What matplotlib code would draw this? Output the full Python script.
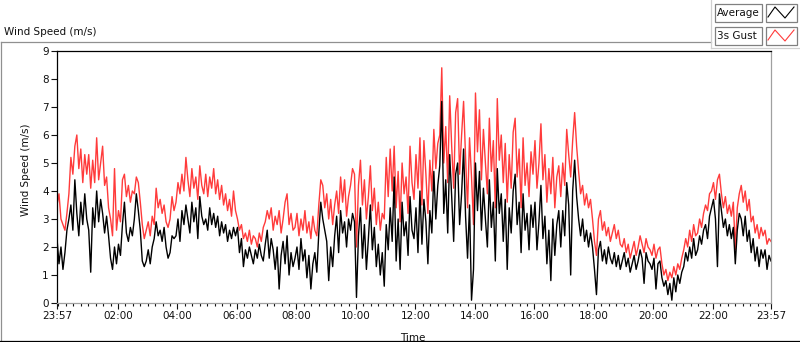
import matplotlib
matplotlib.use("Agg")
import matplotlib.pyplot as plt
from matplotlib.lines import Line2D
from matplotlib.patches import Rectangle
import numpy as np

# === Data: 4-minute samples, one row per hour starting 23:57 ===
avg_speed = [
    2.3, 1.4, 2.0, 1.2, 1.8, 2.6, 3.0, 3.5, 2.6, 4.4, 3.2, 2.4, 3.6, 2.8, 3.9,
    3.0, 2.6, 1.1, 3.4, 2.7, 4.0, 2.9, 3.7, 3.2, 2.5, 3.1, 2.4, 1.6, 1.2, 2.0,
    1.4, 2.1, 1.7, 2.8, 3.6, 2.5, 2.2, 2.7, 2.4, 3.0, 3.9, 3.3, 2.6, 1.5, 1.3,
    1.5, 1.9, 1.4, 2.0, 2.3, 2.9, 2.4, 2.6, 2.2, 2.7, 2.0, 1.6, 1.8, 2.4, 2.3,
    2.4, 3.0, 2.2, 3.3, 2.8, 3.5, 3.0, 2.5, 3.6, 2.9, 3.4, 2.3, 3.8, 3.1, 2.8,
    3.0, 2.6, 3.4, 2.8, 3.2, 2.7, 3.1, 2.4, 2.9, 2.5, 2.8, 2.2, 2.6, 2.3, 2.7,
    2.4, 2.7, 1.8, 2.3, 1.3, 1.9, 1.6, 2.0, 1.7, 1.4, 1.9, 1.6, 2.1, 1.7, 1.5,
    2.1, 2.6, 1.6, 2.3, 1.9, 1.2, 2.0, 0.5, 1.7, 2.2, 1.4, 2.4, 1.0, 1.8, 1.3,
    1.6, 2.0, 1.2, 2.3, 1.5, 1.9, 0.9, 1.7, 0.5, 1.4, 1.8, 1.1, 2.5, 3.6, 3.0,
    2.6, 2.2, 0.8, 2.0, 1.3, 2.4, 3.1, 1.8, 3.3, 2.5, 2.9, 2.0, 3.0, 2.6, 3.2,
    2.9, 0.2, 2.4, 3.4, 1.6, 2.8, 1.2, 2.3, 3.5, 1.9, 2.7, 1.3, 2.1, 1.0, 1.8,
    0.6, 2.8, 1.9, 3.4, 2.2, 4.5, 1.5, 3.0, 1.2, 3.6, 2.4, 2.9, 1.7, 3.8, 2.6,
    2.3, 3.4, 1.8, 4.0, 2.1, 3.7, 2.9, 1.4, 3.3, 2.5, 4.7, 3.0, 4.2, 4.9, 7.2,
    3.2, 4.4, 2.5, 5.3, 3.8, 2.2, 4.6, 5.0, 2.8, 3.9, 5.5, 3.1, 1.6, 3.5, 0.1,
    1.2, 5.0, 3.3, 4.7, 2.6, 4.1, 3.0, 2.0, 4.4, 2.7, 3.6, 1.5, 4.8, 3.2, 3.9,
    2.2, 3.7, 1.2, 3.4, 2.5, 4.0, 4.6, 2.8, 3.6, 1.8, 3.9, 2.6, 3.2, 1.9, 3.5,
    2.7, 3.6, 1.9, 2.9, 4.2, 2.3, 3.1, 1.4, 2.6, 0.8, 3.0, 1.7, 2.8, 3.3, 2.0,
    3.3, 2.4, 4.3, 3.5, 1.0, 4.0, 5.1, 3.8, 3.0, 2.4, 3.0, 2.2, 2.6, 2.0, 2.5,
    2.0, 1.2, 0.3, 1.9, 2.2, 1.5, 1.9, 1.4, 2.0, 1.6, 1.4, 1.8, 1.3, 1.7, 1.2,
    1.5, 1.8, 1.3, 1.6, 1.1, 1.4, 1.7, 1.2, 1.5, 1.9, 1.6, 0.7, 1.8, 1.5, 1.4,
    1.2, 1.6, 0.5, 1.4, 1.5, 0.9, 0.6, 0.8, 0.3, 0.7, 0.1, 0.9, 0.4, 1.0, 0.7,
    1.1, 1.3, 1.8, 1.5, 2.0, 1.6, 2.3, 1.7, 1.9, 2.4, 2.1, 2.6, 2.8, 2.3, 3.1,
    3.4, 3.7, 3.0, 1.3, 3.9, 3.3, 2.7, 3.0, 2.4, 2.8, 2.3, 2.7, 1.4, 2.6, 3.2,
    3.0, 2.4, 3.1, 2.2, 2.6, 1.8, 2.3, 1.5, 2.0, 1.3, 1.9, 1.6, 1.9, 1.2, 1.7,
    1.5,
]

gust_speed = [
    3.5, 3.9, 3.0, 2.8, 2.6, 3.2, 3.9, 5.2, 4.6, 5.6, 6.0, 4.8, 5.5, 4.3, 5.3,
    4.6, 5.3, 4.1, 5.1, 4.3, 5.9, 4.4, 5.0, 5.6, 4.2, 4.5, 3.4, 3.0, 2.4, 4.8,
    2.6, 3.3, 2.9, 4.4, 4.6, 3.8, 4.2, 3.6, 4.0, 3.9, 4.5, 4.3, 3.6, 2.8, 2.3,
    2.6, 2.9, 2.4, 3.1, 2.8, 4.1, 3.4, 3.7, 3.2, 3.5, 2.9, 2.7, 3.0, 3.8, 3.3,
    3.6, 4.3, 3.9, 4.6, 4.0, 5.2, 4.4, 3.8, 4.8, 4.1, 4.5, 3.7, 4.9, 4.2, 3.9,
    4.6, 3.8, 4.5, 4.1, 4.8, 3.9, 4.4, 3.7, 4.2, 3.5, 3.9, 3.3, 3.7, 3.1, 4.0,
    3.3, 3.0, 2.6, 2.8, 2.3, 2.5, 2.2, 2.6, 2.1, 2.4, 2.3, 2.0, 2.5, 2.2, 2.7,
    2.9, 3.3, 3.0, 3.4, 2.6, 3.1, 2.8, 3.3, 2.5, 3.0, 3.6, 3.9, 2.8, 3.2, 2.6,
    2.7, 3.2, 2.4, 3.0, 2.6, 3.3, 2.5, 2.9, 2.3, 3.1, 2.6, 2.4, 3.5, 4.4, 4.2,
    3.4, 3.9, 3.0, 3.7, 2.8, 3.5, 4.0, 3.2, 4.5, 3.6, 4.4, 3.1, 3.8, 4.2, 4.8,
    4.6, 2.0, 4.2, 5.1, 3.5, 4.4, 3.0, 3.8, 4.9, 3.3, 4.1, 2.8, 3.6, 2.6, 3.2,
    3.0, 5.2, 3.8, 5.5, 4.0, 5.6, 3.4, 4.7, 2.9, 5.0, 3.9, 4.5, 3.2, 5.6, 4.3,
    3.7, 5.3, 4.1, 5.9, 3.5, 5.8, 4.6, 3.2, 5.1, 4.0, 6.2, 4.8, 5.7, 6.0, 8.4,
    5.0, 6.3, 4.3, 7.4, 5.6, 4.1, 6.8, 7.3, 4.6, 6.0, 7.2, 5.2, 3.4, 5.9, 4.5,
    2.8, 7.5, 5.4, 6.9, 4.4, 6.2, 5.0, 3.9, 6.6, 4.7, 5.8, 3.4, 7.3, 5.1, 6.0,
    4.3, 5.7, 3.6, 5.3, 4.1, 6.1, 6.6, 4.5, 5.5, 3.4, 5.9, 4.2, 5.0, 3.8, 5.4,
    4.6, 5.8, 4.1, 5.0, 6.4, 4.4, 5.3, 3.6, 4.8, 3.9, 5.2, 3.4, 4.5, 4.9, 3.8,
    5.0, 4.2, 6.2, 5.3, 4.5, 5.8, 6.8, 5.6, 4.7, 3.9, 4.2, 3.5, 3.9, 3.4, 3.7,
    3.0, 2.2, 1.7, 3.0, 3.3, 2.6, 2.9, 2.4, 2.7, 2.2, 2.5, 2.8, 2.3, 2.6, 2.1,
    2.0, 2.3, 1.8, 2.1, 1.6, 1.9, 2.2, 1.7, 2.0, 2.4, 2.1, 1.8, 2.3, 2.0, 1.9,
    1.7, 2.1, 1.6, 1.9, 2.0, 1.4, 1.0, 1.2, 0.8, 1.1, 0.9, 1.3, 1.0, 1.4, 1.2,
    1.6, 1.9, 2.3, 2.0, 2.6, 2.2, 2.8, 2.4, 2.5, 3.0, 2.7, 3.2, 3.5, 3.3, 3.9,
    4.0, 4.3, 3.7, 4.4, 4.6, 3.9, 3.4, 3.8, 3.2, 3.5, 3.1, 3.6, 1.9, 3.4, 3.9,
    4.2, 3.6, 4.0, 3.3, 3.7, 2.9, 3.1, 2.5, 2.8, 2.3, 2.7, 2.4, 2.6, 2.1, 2.3,
    2.2,
]

series_labels = ["Average", "3s Gust"]
series_colors = ["#000000", "#ff3b3b"]
tick_minutes = [0, 123, 243, 363, 483, 603, 723, 843, 963, 1083, 1203, 1323, 1440]
tick_labels = ["23:57", "02:00", "04:00", "06:00", "08:00", "10:00", "12:00",
               "14:00", "16:00", "18:00", "20:00", "22:00", "23:57"]

W, H = 800, 342
minutes = np.arange(len(avg_speed)) * 4


def fx(x):
    return x / W


def fy(y):
    return 1 - y / H


plt.rcParams["font.family"] = ["DejaVu Sans"]
fig = plt.figure(figsize=(W / 100, H / 100), dpi=100)
fig.patch.set_facecolor("white")

ax = fig.add_axes([fx(57), fy(303), 714 / W, 252 / H])
ax.plot(minutes, gust_speed, color=series_colors[1], lw=1.0)
ax.plot(minutes, avg_speed, color=series_colors[0], lw=1.0)

ax.set_xlim(0, 1440)
ax.set_ylim(0, 9)
ax.set_yticks(range(0, 10))
ax.set_xticks(tick_minutes)
ax.set_xticklabels(tick_labels)
ax.set_xticks([m for m in range(3, 1440, 15) if m not in tick_minutes], minor=True)
ax.tick_params(axis="both", which="major", direction="out", length=4, width=0.8,
               labelsize=7.5, pad=2, colors="#111111")
ax.tick_params(axis="x", which="minor", direction="out", length=2.5, width=0.8,
               colors="#111111")

for side in ["top", "left"]:
    ax.spines[side].set_color("black")
    ax.spines[side].set_linewidth(0.9)
for side in ["bottom", "right"]:
    ax.spines[side].set_color("#a0a0a0")
    ax.spines[side].set_linewidth(0.9)

ax.set_ylabel("Wind Speed (m/s)", fontsize=7.5, color="#111111")
ax.yaxis.set_label_coords((31 - 57) / 714, 0.53)
ax.set_xlabel("Time", fontsize=7.5, color="#111111")
ax.xaxis.set_label_coords((413 - 57) / 714, (303 - 333) / 252)

# === Outer frame and title ===
fig.text(fx(4), fy(32), "Wind Speed (m/s)", fontsize=7.5, ha="left", va="center",
         color="#111111")
fig.add_artist(Line2D([fx(0.5), fx(711)], [fy(42), fy(42)], color="#909090", lw=0.9))
fig.add_artist(Line2D([fx(0.5), fx(0.5)], [fy(42), fy(341)], color="#909090", lw=0.9))
fig.add_artist(Line2D([fx(0), fx(800)], [fy(341), fy(341)], color="black", lw=0.9))
fig.add_artist(Line2D([fx(711), fx(711)], [fy(0), fy(48)], color="#d0d0d0", lw=0.9))
fig.add_artist(Line2D([fx(711), fx(800)], [fy(48), fy(48)], color="#d0d0d0", lw=0.9))

# === Legend ===
icon_x = [768, 775, 785, 794]
icon_y = [17, 7, 18, 7]
for i, (label, color) in enumerate(zip(series_labels, series_colors)):
    top = 4 + i * 23
    fig.add_artist(Rectangle((fx(715), fy(top + 18)), 47 / W, 18 / H, transform=fig.transFigure,
                             facecolor="white", edgecolor="#808080", lw=0.9))
    fig.add_artist(Rectangle((fx(766), fy(top + 18)), 31 / W, 18 / H, transform=fig.transFigure,
                             facecolor="white", edgecolor="#808080", lw=0.9))
    fig.text(fx(717), fy(top + 9), label, fontsize=7.5, ha="left", va="center", color="#111111")
    fig.add_artist(Line2D([fx(x) for x in icon_x], [fy(y + i * 23) for y in icon_y],
                          color=color, lw=0.8))

fig.savefig("out.png", dpi=100)
